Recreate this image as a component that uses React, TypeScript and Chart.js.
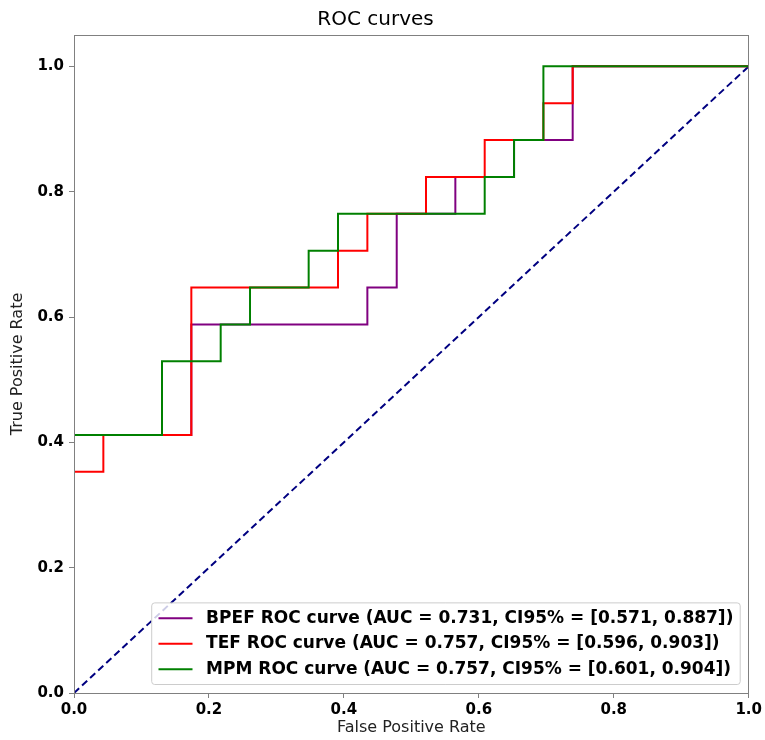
import React, { useEffect, useRef } from "react";
import { Chart, registerables } from "chart.js";

Chart.register(...registerables);

// ---- data ----
const seriesLabels = [
  "BPEF ROC curve (AUC = 0.731, CI95% = [0.571, 0.887])",
  "TEF ROC curve (AUC = 0.757, CI95% = [0.596, 0.903])",
  "MPM ROC curve (AUC = 0.757, CI95% = [0.601, 0.904])",
];
const seriesColors = ["#800080", "#ff0000", "#008000"];

const bpefFpr = [0, 0, 0.1739, 0.1739, 0.4348, 0.4348, 0.4783, 0.4783, 0.5652, 0.5652, 0.6522, 0.6522, 0.7391, 0.7391, 1];
const bpefTpr = [0, 0.4118, 0.4118, 0.5882, 0.5882, 0.6471, 0.6471, 0.7647, 0.7647, 0.8235, 0.8235, 0.8824, 0.8824, 1, 1];

const tefFpr = [0, 0, 0.0435, 0.0435, 0.1739, 0.1739, 0.3913, 0.3913, 0.4348, 0.4348, 0.5217, 0.5217, 0.6087, 0.6087, 0.6957, 0.6957, 0.7391, 0.7391, 1];
const tefTpr = [0, 0.3529, 0.3529, 0.4118, 0.4118, 0.6471, 0.6471, 0.7059, 0.7059, 0.7647, 0.7647, 0.8235, 0.8235, 0.8824, 0.8824, 0.9412, 0.9412, 1, 1];

const mpmFpr = [0, 0, 0.1304, 0.1304, 0.2174, 0.2174, 0.2609, 0.2609, 0.3478, 0.3478, 0.3913, 0.3913, 0.6087, 0.6087, 0.6522, 0.6522, 0.6957, 0.6957, 1];
const mpmTpr = [0, 0.4118, 0.4118, 0.5294, 0.5294, 0.5882, 0.5882, 0.6471, 0.6471, 0.7059, 0.7059, 0.7647, 0.7647, 0.8235, 0.8235, 0.8824, 0.8824, 1, 1];

const chanceFpr = [0, 1];
const chanceTpr = [0, 1];

const xTicks = [0, 0.2, 0.4, 0.6, 0.8, 1.0];
const yTicks = [0, 0.2, 0.4, 0.6, 0.8, 1.0];

const FONT = '"DejaVu Sans", "Liberation Sans", sans-serif';

const toPoints = (xs: number[], ys: number[]) => xs.map((x, i) => ({ x, y: ys[i] }));

const alignPx = (p: number) => Math.round(p - 0.5) + 0.5;

const boxPlugin = {
  id: "boxBorder",
  afterDatasetsDraw(chart: any) {
    const { ctx, chartArea } = chart;
    ctx.save();
    ctx.strokeStyle = "#808080";
    ctx.lineWidth = 1;
    const l = alignPx(chartArea.left);
    const r = alignPx(chartArea.right);
    const t = alignPx(chartArea.top);
    const b = alignPx(chartArea.bottom);
    ctx.strokeRect(l, t, r - l, b - t);
    ctx.restore();
  },
};

const legendPlugin = {
  id: "insideLegend",
  afterDatasetsDraw(chart: any) {
    const { ctx, chartArea } = chart;
    const items = chart.data.datasets.filter((d: any) => d.label);
    const fs = 17;
    ctx.save();
    ctx.font = `bold ${fs}px ${FONT}`;
    const maxW = Math.max(...items.map((d: any) => ctx.measureText(d.label).width));
    const pad = 0.4 * fs;
    const handle = 2 * fs;
    const gap = 0.8 * fs;
    const rowH = fs;
    const spacing = 0.5 * fs;
    const w = pad * 2 + handle + gap + maxW;
    const h = pad * 2 + items.length * rowH + (items.length - 1) * spacing;
    const right = chartArea.right - 0.5 * fs;
    const bottom = chartArea.bottom - 0.5 * fs;
    const left = right - w;
    const top = bottom - h;
    const r = 3;
    ctx.beginPath();
    ctx.moveTo(left + r, top);
    ctx.lineTo(left + w - r, top);
    ctx.arcTo(left + w, top, left + w, top + r, r);
    ctx.lineTo(left + w, top + h - r);
    ctx.arcTo(left + w, top + h, left + w - r, top + h, r);
    ctx.lineTo(left + r, top + h);
    ctx.arcTo(left, top + h, left, top + h - r, r);
    ctx.lineTo(left, top + r);
    ctx.arcTo(left, top, left + r, top, r);
    ctx.closePath();
    ctx.fillStyle = "rgba(255,255,255,0.8)";
    ctx.fill();
    ctx.strokeStyle = "#cccccc";
    ctx.lineWidth = 1;
    ctx.stroke();
    items.forEach((d: any, i: number) => {
      const y = top + pad + rowH / 2 + i * (rowH + spacing);
      ctx.beginPath();
      ctx.strokeStyle = d.borderColor;
      ctx.lineWidth = 2;
      ctx.moveTo(left + pad, y);
      ctx.lineTo(left + pad + handle, y);
      ctx.stroke();
      ctx.fillStyle = "#000000";
      ctx.textBaseline = "middle";
      ctx.textAlign = "left";
      ctx.fillText(d.label, left + pad + handle + gap, y);
    });
    ctx.restore();
  },
};

export default function App() {
  const canvasRef = useRef<HTMLCanvasElement | null>(null);

  useEffect(() => {
    document.body.style.margin = "0";
    const canvas = canvasRef.current;
    if (!canvas) return;
    const chart = new Chart(canvas, {
      type: "scatter",
      data: {
        datasets: [
          {
            label: seriesLabels[0],
            data: toPoints(bpefFpr, bpefTpr),
            borderColor: seriesColors[0],
            backgroundColor: seriesColors[0],
            borderWidth: 2,
            showLine: true,
            pointRadius: 0,
            order: 3,
          },
          {
            label: seriesLabels[1],
            data: toPoints(tefFpr, tefTpr),
            borderColor: seriesColors[1],
            backgroundColor: seriesColors[1],
            borderWidth: 2,
            showLine: true,
            pointRadius: 0,
            order: 2,
          },
          {
            label: seriesLabels[2],
            data: toPoints(mpmFpr, mpmTpr),
            borderColor: seriesColors[2],
            backgroundColor: seriesColors[2],
            borderWidth: 2,
            showLine: true,
            pointRadius: 0,
            order: 1,
          },
          {
            label: "",
            data: toPoints(chanceFpr, chanceTpr),
            borderColor: "#000080",
            backgroundColor: "#000080",
            borderWidth: 2,
            borderDash: [7, 4],
            showLine: true,
            pointRadius: 0,
            order: 4,
          },
        ],
      } as any,
      options: {
        animation: false,
        responsive: false,
        devicePixelRatio: 1,
        layout: { padding: { left: 0, right: 14, top: 0, bottom: 0 } },
        plugins: {
          legend: { display: false },
          tooltip: { enabled: false },
          title: {
            display: true,
            text: "ROC curves",
            color: "#000000",
            font: { family: FONT, size: 20, weight: "normal" },
            padding: { top: 8, bottom: 3 },
          },
        },
        scales: {
          x: {
            type: "linear",
            min: 0,
            max: 1,
            afterBuildTicks: (scale: any) => {
              scale.ticks = xTicks.map((v) => ({ value: v }));
            },
            afterFit: (scale: any) => {
              scale.height = 47;
            },
            ticks: {
              color: "#000000",
              font: { family: FONT, size: 15, weight: "bold" },
              padding: 3,
              maxRotation: 0,
              callback: (v: any) => Number(v).toFixed(1),
            },
            grid: {
              drawOnChartArea: false,
              drawTicks: true,
              tickLength: 5,
              tickColor: "#808080",
              color: "#808080",
            },
            border: { display: false },
            title: {
              display: true,
              text: "False Positive Rate",
              color: "#222222",
              font: { family: FONT, size: 16, weight: "normal" },
              padding: { top: 0, bottom: 3 },
            },
          },
          y: {
            type: "linear",
            min: 0,
            max: 1.05,
            afterBuildTicks: (scale: any) => {
              scale.ticks = yTicks.map((v) => ({ value: v }));
            },
            afterFit: (scale: any) => {
              scale.width = 74;
            },
            ticks: {
              color: "#000000",
              font: { family: FONT, size: 15, weight: "bold" },
              padding: 5,
              callback: (v: any) => Number(v).toFixed(1),
            },
            grid: {
              drawOnChartArea: false,
              drawTicks: true,
              tickLength: 5,
              tickColor: "#808080",
              color: "#808080",
            },
            border: { display: false },
            title: {
              display: true,
              text: "True Positive Rate",
              color: "#222222",
              font: { family: FONT, size: 16, weight: "normal" },
              padding: { top: 8, bottom: 0 },
            },
          },
        },
      } as any,
      plugins: [boxPlugin, legendPlugin],
    });
    return () => chart.destroy();
  }, []);

  return (
    <div style={{ width: 765, height: 740, background: "#ffffff" }}>
      <canvas ref={canvasRef} width={765} height={740} style={{ display: "block" }} />
    </div>
  );
}
